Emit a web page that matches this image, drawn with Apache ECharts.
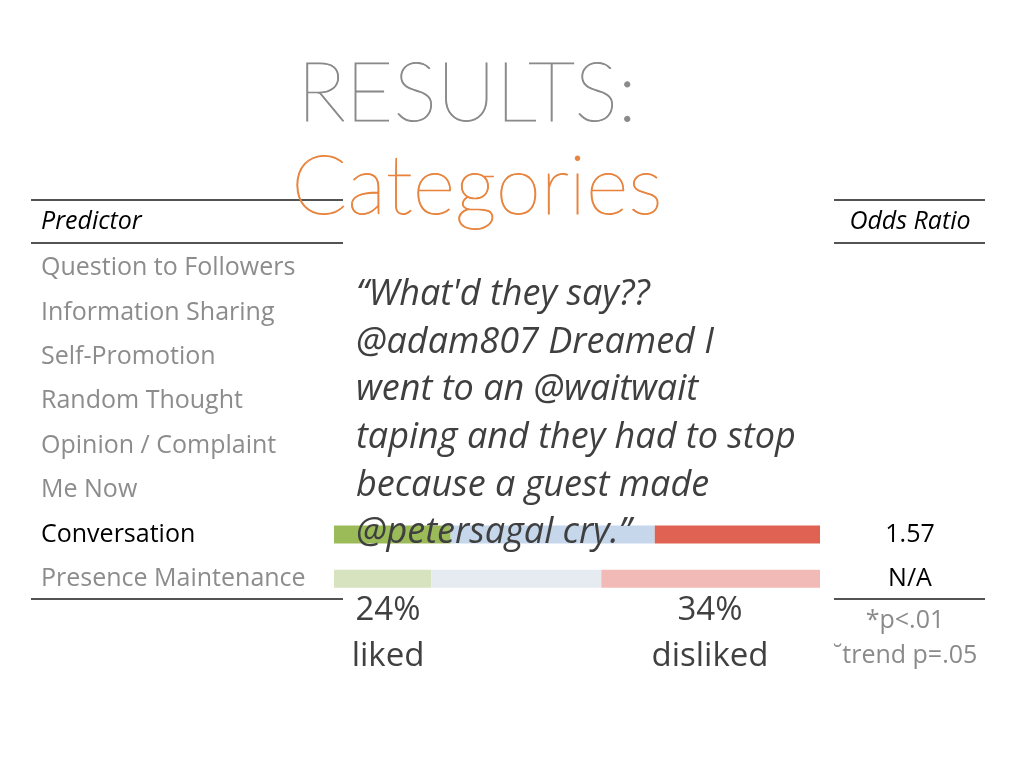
<!DOCTYPE html>
<html>
<head>
<meta charset="utf-8">
<script src="https://cdn.jsdelivr.net/npm/echarts@6/dist/echarts.min.js"></script>
<style>html,body{margin:0;padding:0;background:#fff}#c{width:1024px;height:768px}</style>
</head>
<body>
<div id="c"></div>
<script>
// ---- data ----
var predictors = ['Question to Followers','Information Sharing','Self-Promotion','Random Thought','Opinion / Complaint','Me Now','Conversation','Presence Maintenance'];
var liked    = ['-','-','-','-','-','-',24,20];
var neutral  = ['-','-','-','-','-','-',42,35];
var disliked = ['-','-','-','-','-','-',34,45];
var oddsRatio = ['','','','','','','1.57','N/A'];
var highlighted = 'Conversation';
var quoteLines = ['\u201cWhat\'d they say??','@adam807 Dreamed I','went to an @waitwait','taping and they had to stop','because a guest made','@petersagal cry.\u201d'];
var likedLabel = ['24%','liked'];
var dislikedLabel = ['34%','disliked'];
var footnotes = ['*p<.01','\u02d8trend p=.05'];

// ---- styles ----
var strong = {liked:'#9BBB59', neutral:'#C6D7EC', disliked:'#E06252'};
var faint  = {liked:'#D7E3BF', neutral:'#E6EBF2', disliked:'#F1BAB6'};
var font = '"Open Sans", "Noto Sans", sans-serif';

function seriesData(vals, key){
  return vals.map(function(v,i){
    if (v === '-') return '-';
    return {value:v, itemStyle:{color: predictors[i]===highlighted ? strong[key] : faint[key]}};
  });
}
function mk(name, vals, key){
  return {name:name, type:'bar', stack:'s', barWidth:18, data:seriesData(vals,key), silent:true, z:2};
}

var graphics = [];
function hline(x1,x2,y){ graphics.push({type:'line', shape:{x1:x1,y1:y,x2:x2,y2:y}, style:{stroke:'#1a1a1a', lineWidth:1.5}, z:5}); }
hline(31,343,200); hline(834,985,200);
hline(31,343,243); hline(834,985,243);
hline(31,343,599); hline(834,985,599);
function txt(t,x,y,o){
  graphics.push({type:'text', x:x, y:y, z:10, style:Object.assign({text:t, fontFamily:font, textVerticalAlign:'middle', verticalAlign:'middle'}, o)});
}
txt('RESULTS:',467,95,{fill:'#8a8a8a',stroke:'#8a8a8a',lineWidth:0.9,fontSize:82,fontWeight:100,fontFamily:'Lato, sans-serif',align:'center',textAlign:'center'});
txt('Categories',477,188,{fill:'#E8843E',stroke:'#E8843E',lineWidth:0.9,fontSize:82,fontWeight:100,fontFamily:'Lato, sans-serif',align:'center',textAlign:'center'});
txt('Predictor',41,222,{fill:'#000',fontSize:25,fontStyle:'italic',align:'left',textAlign:'left'});
txt('Odds Ratio',910,222,{fill:'#000',fontSize:25,fontStyle:'italic',align:'center',textAlign:'center'});
quoteLines.forEach(function(l,i){
  txt(l,356,295+i*47.6,{fill:'#3f3f3f',fontSize:36,fontStyle:'italic',align:'left',textAlign:'left'});
});
txt(likedLabel[0],388,611,{fill:'#404040',fontSize:33,align:'center',textAlign:'center'});
txt(likedLabel[1],388,657,{fill:'#404040',fontSize:33,align:'center',textAlign:'center'});
txt(dislikedLabel[0],710,611,{fill:'#404040',fontSize:33,align:'center',textAlign:'center'});
txt(dislikedLabel[1],710,657,{fill:'#404040',fontSize:33,align:'center',textAlign:'center'});
txt(footnotes[0],905,621,{fill:'#8a8a8a',fontSize:25,align:'center',textAlign:'center'});
txt(footnotes[1],905,656,{fill:'#8a8a8a',fontSize:25,align:'center',textAlign:'center'});

var chart = echarts.init(document.getElementById('c'));
chart.setOption({
  animation:false,
  backgroundColor:'#fff',
  grid:{left:334, right:204, top:246, height:355},
  xAxis:{type:'value', min:0, max:100, show:false},
  yAxis:[
    {type:'category', data:predictors, inverse:true, axisLine:{show:false}, axisTick:{show:false},
     axisLabel:{align:'left', margin:293, fontFamily:font, fontSize:25,
       color:function(v){ return v===highlighted ? '#000' : '#8c8c8c'; }}},
    {type:'category', data:predictors, inverse:true, position:'right', axisLine:{show:false}, axisTick:{show:false},
     axisLabel:{align:'center', margin:90, fontFamily:font, fontSize:25, color:'#000',
       formatter:function(v,i){ return oddsRatio[i]; }}}
  ],
  series:[mk('liked',liked,'liked'), mk('neutral',neutral,'neutral'), mk('disliked',disliked,'disliked')],
  graphic:graphics
});
</script>
</body>
</html>
